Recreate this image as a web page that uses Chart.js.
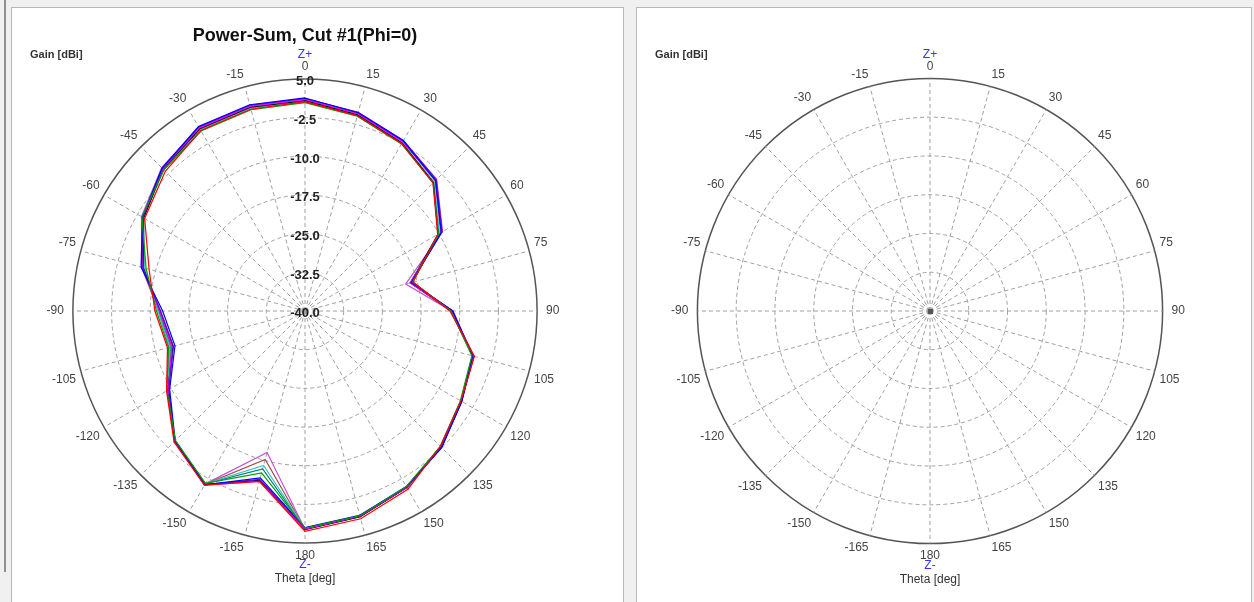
<!DOCTYPE html>
<html>
<head>
<meta charset="utf-8">
<script src="https://cdn.jsdelivr.net/npm/chart.js@4.4.1/dist/chart.umd.min.js"></script>
<style>
  body { margin: 0; background: #f0f0f0; width: 1254px; height: 602px; overflow: hidden; position: relative; }
  .panel { position: absolute; top: 7px; height: 600px; background: #fff; border: 1px solid #b8b8b8; }
  #p1 { left: 11px; width: 611px; }
  #p2 { left: 636px; width: 614px; }
  #edge { position: absolute; left: 4px; top: 0; width: 2px; height: 572px; background: #909090; }
  canvas { position: absolute; top: 8px; }
  #cut1 { left: 10px; }
  #cut2 { left: 635px; }
</style>
</head>
<body>
<div id="edge"></div>
<div class="panel" id="p1"></div>
<div class="panel" id="p2"></div>
<canvas id="cut1" width="590" height="594"></canvas>
<canvas id="cut2" width="590" height="594"></canvas>
<script>
// theta angles, clockwise from Z+
const thetaLabels = ['0','15','30','45','60','75','90','105','120','135','150','165',
                     '180','-165','-150','-135','-120','-105','-90','-75','-60','-45','-30','-15'];
const gainTicks = [5.0, -2.5, -10.0, -17.5, -25.0, -32.5, -40.0];

// gain [dBi] per frequency trace, same order as thetaLabels
const trace1 = [0.6,-0.8,-2.5,-4.9,-10.3,-18.3,-11.9,-6.0,-5.1,-2.9,-0.1,1.7,2.7,-5.8,-1.0,-4.1,-9.0,-12.4,-10.9,-8.7,-4.1,-1.7,0.4,0.5];
const trace2 = [0.4,-0.9,-2.6,-4.9,-10.1,-18.4,-11.7,-6.5,-5.2,-2.9,-0.7,1.1,2.1,-7.5,-1.4,-4.5,-9.1,-12.6,-11.2,-8.1,-3.5,-1.3,0.3,0.4];
const trace3 = [1.3,-0.2,-1.9,-4.2,-9.5,-18.6,-11.4,-6.4,-4.9,-2.5,-0.7,1.0,2.0,-6.5,-1.1,-4.4,-9.7,-13.9,-12.4,-7.1,-3.6,-0.8,1.3,1.4];
const trace4 = [1.2,-0.1,-1.8,-4.0,-9.3,-18.7,-11.3,-6.3,-4.9,-2.6,-0.6,1.1,2.1,-6.2,-1.1,-4.2,-9.5,-13.6,-12.0,-7.3,-3.7,-0.9,1.2,1.3];
const trace5 = [1.0,-0.4,-2.1,-4.2,-9.5,-18.9,-11.5,-6.2,-5.0,-2.6,-0.5,1.2,2.3,-5.8,-1.0,-4.3,-9.4,-13.3,-11.8,-7.4,-3.7,-1.0,1.0,1.1];
const trace6 = [0.8,-0.6,-2.4,-4.8,-10.2,-18.8,-11.6,-6.1,-5.0,-2.7,-0.5,1.3,2.4,-6.0,-1.2,-4.3,-9.3,-13.5,-11.9,-7.5,-3.9,-1.1,0.8,0.9];
const trace7 = [0.6,-0.6,-2.3,-4.6,-9.9,-18.5,-11.6,-6.4,-5.1,-2.8,-0.6,1.2,2.2,-9.0,-1.3,-4.4,-9.2,-12.9,-11.5,-7.8,-3.8,-1.3,0.6,0.7];
const trace8 = [0.5,-0.7,-2.4,-4.7,-10.0,-18.4,-11.7,-6.4,-5.1,-2.8,-0.6,1.2,2.2,-8.3,-1.3,-4.4,-9.2,-13.0,-11.6,-7.7,-3.8,-1.2,0.6,0.7];
const trace9 = [0.9,-0.4,-2.0,-4.3,-9.6,-18.9,-11.6,-6.3,-5.0,-2.7,-0.5,1.3,2.3,-10.2,-1.2,-4.3,-9.3,-13.2,-11.7,-7.3,-3.7,-1.1,0.9,1.0];
const trace10 = [1.1,-0.3,-1.9,-3.9,-9.2,-19.8,-11.6,-6.3,-5.0,-2.6,-0.5,1.2,2.3,-11.6,-1.3,-4.3,-9.2,-12.7,-11.6,-7.2,-3.4,-0.7,1.1,1.2];

const traces = [trace1, trace2, trace3, trace4, trace5, trace6, trace7, trace8, trace9, trace10];
const traceColors = ['#ff0000', '#00a000', '#0000ff', '#6010c0', '#ff00ff', '#000000', '#40c0c0', '#008080', '#a04848', '#c050d0'];

const FONT = '"Liberation Sans", Arial, sans-serif';

const decor = {
  id: 'decor',
  afterDraw(chart, args, opts) {
    const { ctx } = chart;
    const r = chart.scales.r;
    ctx.save();
    ctx.textBaseline = 'middle';
    ctx.textAlign = 'left';
    ctx.fillStyle = '#333';
    ctx.font = 'bold 11px ' + FONT;
    ctx.fillText('Gain [dBi]', opts.gainX, 47);
    ctx.textAlign = 'center';
    ctx.font = '12px ' + FONT;
    ctx.fillStyle = '#3535ff';
    ctx.fillText('Z+', r.xCenter, r.yCenter - r.drawingArea - 24);
    ctx.fillText('Z-', r.xCenter, r.yCenter + r.drawingArea + 22);
    ctx.fillStyle = '#333';
    ctx.fillText('Theta [deg]', r.xCenter, r.yCenter + r.drawingArea + 36);
    if (opts.centerMark) {
      ctx.fillStyle = '#555';
      ctx.fillRect(r.xCenter - 2, r.yCenter - 2, 5, 5);
    }
    ctx.restore();
  }
};

// labels at 90/-90 sit a little further out than the others
function polarScale(showTicks, padSide, padOther) {
  return {
    r: {
      min: -40,
      max: 5,
      afterBuildTicks: s => { s.ticks = gainTicks.slice().reverse().map(v => ({ value: v })); },
      ticks: {
        display: showTicks,
        stepSize: 7.5,
        showLabelBackdrop: false,
        backdropPadding: 0,
        color: '#222',
        font: { family: FONT, size: 13, weight: 'bold', lineHeight: '2.7px' },
        callback: v => ['', v.toFixed(1)]
      },
      grid: {
        circular: true,
        color: c => c.tick && c.tick.value === 5 ? '#555' : '#a0a0a0',
        lineWidth: c => c.tick && c.tick.value === 5 ? 1.5 : 1
      },
      border: {
        dash: c => c.tick && c.tick.value === 5 ? [] : [4, 3]
      },
      angleLines: { color: '#a0a0a0', lineWidth: 1, borderDash: [4, 3] },
      pointLabels: {
        padding: c => (c.index === 6 || c.index === 18) ? padSide : padOther,
        color: '#444',
        font: { family: FONT, size: 12 }
      }
    }
  };
}

new Chart(document.getElementById('cut1'), {
  type: 'radar',
  data: {
    labels: thetaLabels,
    datasets: traces.map((t, i) => ({
      label: 'Trace ' + (i + 1),
      data: t,
      borderColor: traceColors[i],
      borderWidth: 1.2,
      pointRadius: 0,
      fill: false
    }))
  },
  options: {
    responsive: false,
    animation: false,
    devicePixelRatio: 1,
    layout: { padding: { top: 0, bottom: 39.5 } },
    scales: polarScale(true, 2.5, -1.5),
    plugins: {
      legend: { display: false },
      tooltip: { enabled: false },
      title: {
        display: true,
        text: 'Power-Sum, Cut #1(Phi=0)',
        color: '#111',
        font: { family: FONT, size: 18, weight: 'bold' },
        padding: { top: 17.2, bottom: 12.7 }
      },
      decor: { gainX: 20 }
    }
  },
  plugins: [decor]
});

new Chart(document.getElementById('cut2'), {
  type: 'radar',
  data: { labels: thetaLabels, datasets: [] },
  options: {
    responsive: false,
    animation: false,
    devicePixelRatio: 1,
    layout: { padding: { top: 51, bottom: 39 } },
    scales: polarScale(false, 9, 5),
    plugins: {
      legend: { display: false },
      tooltip: { enabled: false },
      decor: { gainX: 20, centerMark: true }
    }
  },
  plugins: [decor]
});
</script>
</body>
</html>
